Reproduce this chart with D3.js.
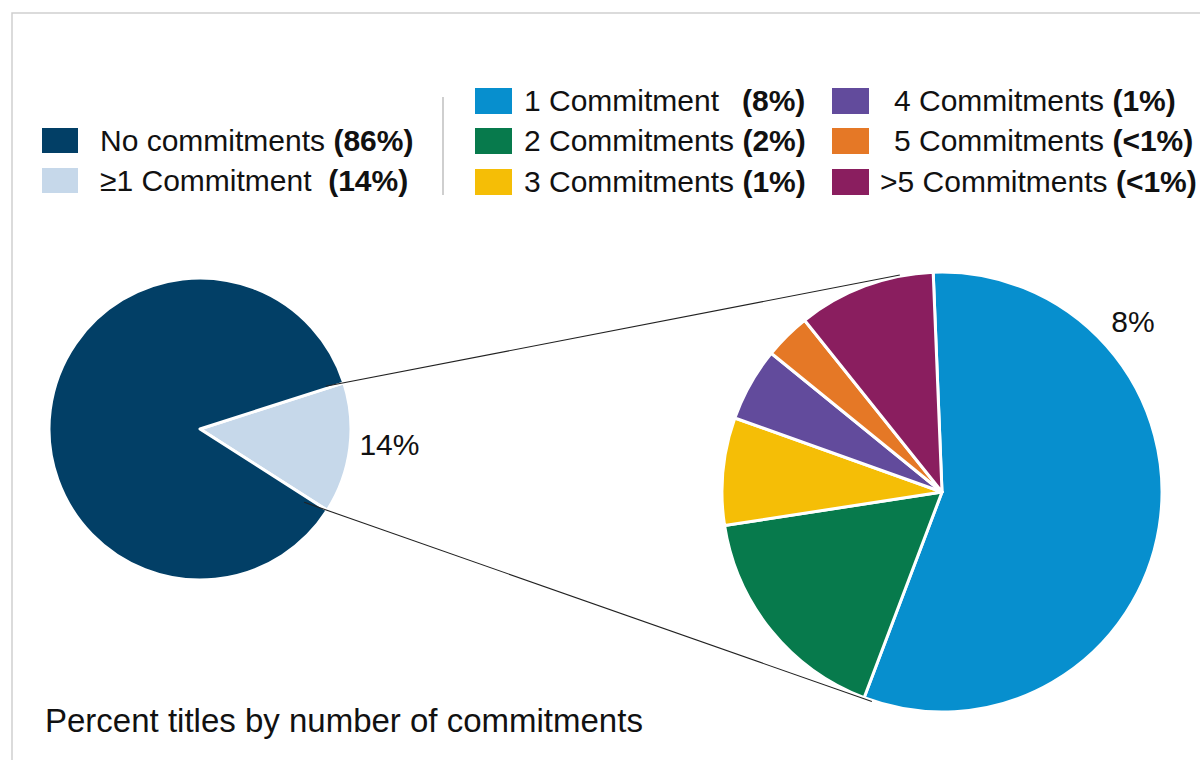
<!DOCTYPE html>
<html><head><meta charset="utf-8">
<script src="https://cdn.jsdelivr.net/npm/d3@7"></script>
<style>
html,body{margin:0;padding:0;background:#fff;}
svg{display:block;font-family:"Liberation Sans",Arial,sans-serif;}
</style></head>
<body><svg id="chart" width="1200" height="760"></svg>
<script>
// ---- data ----
const mainCategories = ["≥1 Commitment", "No commitments"];
const mainValues = [14, 86];
const mainLabels = ["(14%)", "(86%)"];
const mainColors = ["#C6D8EA", "#023F66"];

const subCategories = ["1 Commitment", "2 Commitments", "3 Commitments", "4 Commitments", "5 Commitments", ">5 Commitments"];
const subValues = [56.4, 16.8, 7.9, 5.4, 3.4, 10.1];   // share of the ≥1 group (%)
const subLabels = ["(8%)", "(2%)", "(1%)", "(1%)", "(<1%)", "(<1%)"];
const subColors = ["#078FCE", "#077A4C", "#F5BE06", "#624B9C", "#E57826", "#8A1E5F"];

const title = "Percent titles by number of commitments";

// ---- layout ----
const svg = d3.select("#chart");
const deg = Math.PI / 180;
const L = {cx: 200, cy: 429, r: 151, start: 72.2 * deg};
const R = {cx: 942, cy: 492, r: 220, start: -2.3 * deg};

// frame
svg.append("path").attr("d", "M12,760 V13 H1200").attr("fill", "none").attr("stroke", "#cfcfcf").attr("stroke-width", 1.5);

const pt = (c, a, r) => [c.cx + r * Math.sin(a), c.cy - r * Math.cos(a)];

// left pie
const pieL = d3.pie().sort(null).startAngle(L.start).endAngle(L.start + 2 * Math.PI);
const arcsL = pieL(mainValues);
const arcL = d3.arc().innerRadius(0).outerRadius(L.r);
svg.append("g").attr("transform", `translate(${L.cx},${L.cy})`)
  .selectAll("path").data(arcsL).join("path")
  .attr("d", arcL).attr("fill", (d, i) => mainColors[i])
  .attr("stroke", "#fff").attr("stroke-width", 3).attr("stroke-linejoin", "round");

// right pie
const pieR = d3.pie().sort(null).startAngle(R.start).endAngle(R.start + 2 * Math.PI);
const arcsR = pieR(subValues);
const arcR = d3.arc().innerRadius(0).outerRadius(R.r);
svg.append("g").attr("transform", `translate(${R.cx},${R.cy})`)
  .selectAll("path").data(arcsR).join("path")
  .attr("d", arcR).attr("fill", (d, i) => subColors[i])
  .attr("stroke", "#fff").attr("stroke-width", 3).attr("stroke-linejoin", "round");

// connector lines (through the outer corners of the ≥1 slice to the second pie)
const sel = arcsL[0];
function connector(aLeft, aRight, back) {
  const p1 = pt(L, aLeft, L.r);
  const p2 = pt(R, aRight, R.r + 1);
  const dx = p2[0] - p1[0], dy = p2[1] - p1[1];
  const t = -back / dx;
  const p0 = [p1[0] + dx * t, p1[1] + dy * t];
  svg.append("line").attr("x1", p0[0]).attr("y1", p0[1]).attr("x2", p2[0]).attr("y2", p2[1])
    .attr("stroke", "#222").attr("stroke-width", 1.1);
}
connector(sel.startAngle, -11 * deg, 18);
connector(sel.endAngle, 198.5 * deg, 23);

// data labels
const lblL = pt(L, (sel.startAngle + sel.endAngle) / 2, L.r + 40);
svg.append("text").attr("x", lblL[0]).attr("y", lblL[1] + 1).attr("text-anchor", "middle")
  .attr("font-size", 30).attr("fill", "#111").text(mainValues[0] + "%");
const s0 = arcsR[0];
const lblR = pt(R, (s0.startAngle + s0.endAngle) / 2 - 51 * deg, R.r + 36);
svg.append("text").attr("x", lblR[0]).attr("y", lblR[1] + 11).attr("text-anchor", "middle")
  .attr("font-size", 30).attr("fill", "#111").text("8%");

// left legend
const legL = [
  {i: 1, y: 141, gap: " "},
  {i: 0, y: 181, gap: "  "}
];
legL.forEach(o => {
  svg.append("rect").attr("x", 42).attr("y", o.y - 13).attr("width", 36).attr("height", 25).attr("fill", mainColors[o.i]);
  const t = svg.append("text").attr("x", 100).attr("y", o.y + 10).attr("font-size", 30).attr("fill", "#111").attr("xml:space", "preserve");
  t.append("tspan").text(mainCategories[o.i] + o.gap);
  t.append("tspan").attr("font-weight", "bold").text(mainLabels[o.i]);
});

// separator
svg.append("line").attr("x1", 443).attr("x2", 443).attr("y1", 97).attr("y2", 195).attr("stroke", "#cfcfcf").attr("stroke-width", 2);

// right legend
const rowsY = [101, 141, 182];
subCategories.forEach((c, i) => {
  const col = Math.floor(i / 3), row = i % 3;
  const sx = col === 0 ? 475 : 832;
  const y = rowsY[row];
  svg.append("rect").attr("x", sx).attr("y", y - 13).attr("width", 37).attr("height", 26).attr("fill", subColors[i]);
  let tx = col === 0 ? 524 : (c.startsWith(">") ? 880 : 894);
  const t = svg.append("text").attr("x", tx).attr("y", y + 10).attr("font-size", 30).attr("fill", "#111").attr("xml:space", "preserve");
  t.append("tspan").text(c + " ");
  const b = t.append("tspan").attr("font-weight", "bold").text(subLabels[i]);
  if (i === 0) b.attr("x", 742);
});

// title
svg.append("text").attr("x", 45).attr("y", 732).attr("font-size", 33).attr("fill", "#111").text(title);
</script></body></html>
